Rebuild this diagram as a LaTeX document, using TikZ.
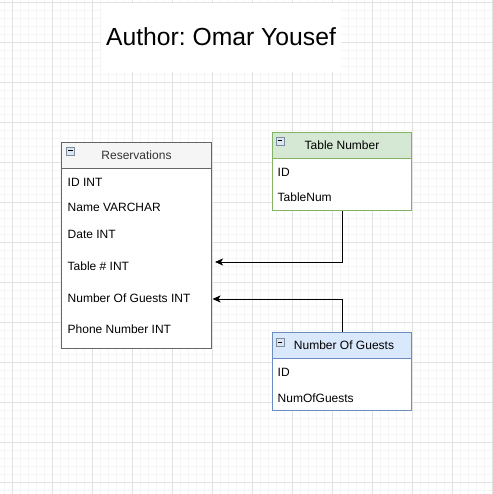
\documentclass[tikz,border=0pt]{standalone}
\usepackage{fontspec}
\setmainfont{Liberation Sans}
\usetikzlibrary{arrows.meta}
\frenchspacing
\definecolor{gridminor}{HTML}{F5F5F5}
\definecolor{gridmajor}{HTML}{E2E2E2}
\definecolor{resfill}{HTML}{F5F5F5}
\definecolor{resstroke}{HTML}{666666}
\definecolor{tnfill}{HTML}{D5E8D4}
\definecolor{tnstroke}{HTML}{82B366}
\definecolor{ngfill}{HTML}{DAE8FC}
\definecolor{ngstroke}{HTML}{6C8EBF}
\definecolor{iconfill}{HTML}{DDE5EF}
\definecolor{iconborder}{HTML}{7D8CA1}
\definecolor{hdrgray}{HTML}{333333}
\tikzset{
  tbl/.style={draw=#1, line width=1pt, inner sep=0pt, anchor=north west},
  hdr/.style={font=\fontsize{12}{14}\selectfont, text height=8.6pt, text depth=0pt},
  row/.style={anchor=base west, inner sep=0pt, font=\fontsize{12}{14}\selectfont},
  icon/.style={draw=iconborder, fill=iconfill, minimum size=8pt, inner sep=0pt, line width=0.8pt},
  minus/.style={line width=1pt, draw=black},
  link/.style={draw=black, line width=1pt, -{Stealth[length=8pt,width=7pt,inset=2pt]}}
}
\begin{document}
\begin{tikzpicture}[x=1pt,y=-1pt]
\useasboundingbox (0,0) rectangle (492,494);
\fill[white] (0,0) rectangle (492,494);
% grid
\foreach \x in {4,12,...,492} \draw[gridminor, line width=0.8pt] (\x,0) -- (\x,494);
\foreach \y in {2,10,...,494} \draw[gridminor, line width=0.8pt] (0,\y) -- (492,\y);
\foreach \x in {12,52,...,492} \draw[gridmajor, line width=0.9pt] (\x,0) -- (\x,494);
\foreach \y in {2,42,...,482} \draw[gridmajor, line width=0.9pt] (0,\y) -- (492,\y);

% title
\node[fill=white, minimum width=240pt, minimum height=69pt, inner sep=0pt, anchor=north west] (titlebg) at (101,3) {};
\node[anchor=base, inner sep=0pt, font=\fontsize{24.7}{28}\selectfont] (title) at (221,45.7) {Author: Omar Yousef};

% Reservations
\node[tbl=resstroke, fill=white, minimum width=150pt, minimum height=180pt] (resb) at (61,168) {};
\node[tbl=resstroke, fill=resfill, minimum width=150pt, minimum height=26pt, hdr, text=hdrgray] (resh) at (61,142) {Reservations};
\node[icon] (resi) at (70.5,151) {};
\draw[minus] ([xshift=2pt]resi.west) -- ([xshift=-2pt]resi.east);
\node[row] (r1) at (67.5,186) {ID INT};
\node[row] (r2) at (67.5,211.3) {Name VARCHAR};
\node[row] (r3) at (67.5,238.3) {Date INT};
\node[row] (r4) at (67.5,270) {Table \# INT};
\node[row] (r5) at (67.5,302.3) {Number Of Guests INT};
\node[row] (r6) at (67.5,333.3) {Phone Number INT};

% Table Number
\node[tbl=tnstroke, fill=white, minimum width=139pt, minimum height=52pt] (tnb) at (272,158) {};
\node[tbl=tnstroke, fill=tnfill, minimum width=139pt, minimum height=26pt, hdr] (tnh) at (272,132) {Table Number};
\node[icon] (tni) at (280,141) {};
\draw[minus] ([xshift=2pt]tni.west) -- ([xshift=-2pt]tni.east);
\node[row] (t1) at (277.5,176) {ID};
\node[row] (t2) at (277.5,201.6) {TableNum};

% Number Of Guests
\node[tbl=ngstroke, fill=white, minimum width=139pt, minimum height=52pt] (ngb) at (272,358) {};
\node[tbl=ngstroke, fill=ngfill, minimum width=139pt, minimum height=26pt, hdr] (ngh) at (272,332) {\hspace*{4pt}Number Of Guests};
\node[icon] (ngi) at (280,342) {};
\draw[minus] ([xshift=2pt]ngi.west) -- ([xshift=-2pt]ngi.east);
\node[row] (g1) at (277.5,376) {ID};
\node[row] (g2) at (277.5,402) {NumOfGuests};

% connectors
\coordinate (tgt1) at (215,262);
\coordinate (tgt2) at (212.5,299);
\draw[link] (tnb.south) |- (tgt1);
\draw[link] (ngh.north) |- (tgt2);
\end{tikzpicture}
\end{document}
